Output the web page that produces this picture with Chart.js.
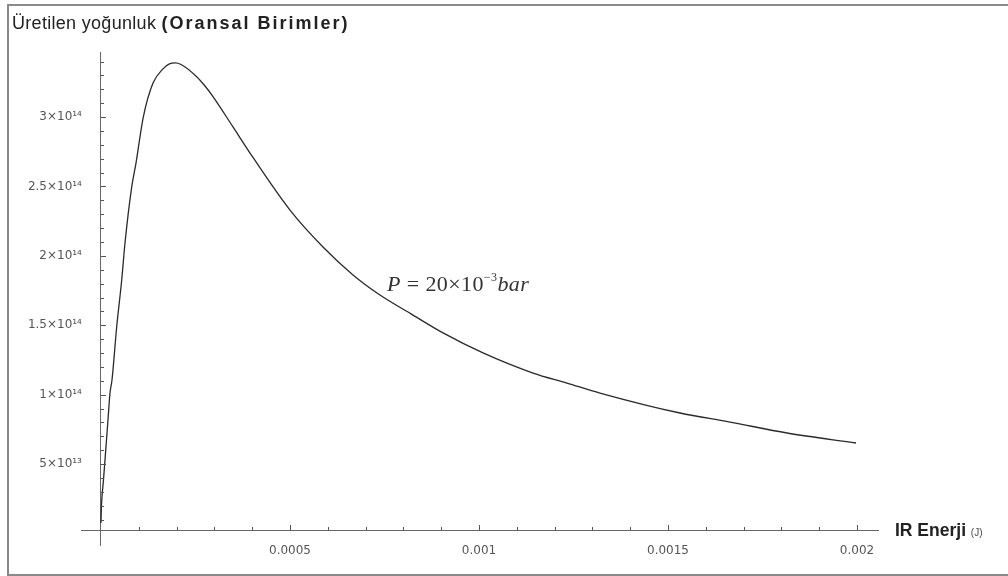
<!DOCTYPE html>
<html>
<head>
<meta charset="utf-8">
<script src="https://cdn.jsdelivr.net/npm/chart.js@4.4.1/dist/chart.umd.min.js"></script>
<style>
    body { margin: 0; background: #fff; }
    #wrap { position: relative; width: 1008px; height: 576px; overflow: hidden; }
    #frame { position: absolute; left: 7px; top: 4px; width: 1010px; height: 568px; border: 2px solid #8a8a8a; }
    .lbl { position: absolute; white-space: nowrap; line-height: 1; color: #222; }
    #title { left: 12px; top: 13px; font: 18px "Liberation Sans", Arial, sans-serif; letter-spacing: 0.3px; }
    #title b { letter-spacing: 2px; }
    #xTitle { left: 895px; top: 520px; font: bold 17.5px "Liberation Sans", Arial, sans-serif; }
    #xTitle span { font-weight: normal; font-size: 10px; color: #444; }
    #note { left: 387px; top: 271px; font: 22px "Liberation Serif", "Times New Roman", serif; color: #333; letter-spacing: 0.4px; }
    #note sup { font-size: 12px; position: relative; top: -1px; vertical-align: top; }
</style>
</head>
<body>
<div id="wrap">
    <canvas id="myChart"></canvas>
    <div id="frame"></div>
    <div class="lbl" id="title">Üretilen yoğunluk <b>(Oransal Birimler)</b></div>
    <div class="lbl" id="xTitle">IR Enerji <span>(J)</span></div>
    <div class="lbl" id="note"><i>P</i> = 20×10<sup>−3</sup><i>bar</i></div>
</div>
<script>
// datos
const energia = [0, 0.000001, 0.0000061, 0.0000106, 0.0000185, 0.0000238, 0.0000291, 0.0000415, 0.0000548,
    0.0000635, 0.0000812, 0.0000926, 0.0001119, 0.0001376, 0.000164, 0.000181, 0.0001963, 0.0002116,
    0.0002532, 0.0002751, 0.0002963, 0.0003492, 0.0004021, 0.0005, 0.0005873, 0.0006667, 0.0007381,
    0.0008201, 0.0009048, 0.0010106, 0.0011429, 0.0012328, 0.0013201, 0.0015317, 0.001664, 0.0018148, 0.0019974];
const densidad = [0.076e14, 0.184e14, 0.371e14, 0.53e14, 0.818e14, 1.012e14, 1.106e14, 1.488e14, 1.826e14,
    2.093e14, 2.496e14, 2.669e14, 3.0e14, 3.245e14, 3.347e14, 3.383e14, 3.39e14, 3.379e14,
    3.291e14, 3.224e14, 3.148e14, 2.929e14, 2.709e14, 2.33e14, 2.064e14, 1.863e14, 1.718e14,
    1.582e14, 1.445e14, 1.301e14, 1.156e14, 1.084e14, 1.012e14, 0.868e14, 0.803e14, 0.724e14, 0.652e14];

const xLabels = ['0.0005', '0.001', '0.0015', '0.002'];
const yLabels = ['5×10¹³', '1×10¹⁴', '1.5×10¹⁴', '2×10¹⁴', '2.5×10¹⁴', '3×10¹⁴'];

const xStep = 0.0001;
const yStep = 1e13;
const yMarcas = 34; // marcas menores hasta 3.4e14
const ejeY0 = 2.5e12; // el eje x no cruza exactamente en cero

// indice de la marca si el valor cae en un paso exacto, si no -1
function pasoDe(v, step) {
    const n = Math.round(v / step);
    return Math.abs(v - n * step) < step * 0.01 ? n : -1;
}

// marcas de los ejes hacia adentro, como en Mathematica
const marcas = {
    id: 'marcas',
    afterDraw(chart) {
        const { ctx, scales: { x, y } } = chart;
        const px0 = x.getPixelForValue(0);
        const py0 = y.getPixelForValue(ejeY0);
        ctx.save();
        ctx.strokeStyle = '#555';
        ctx.lineWidth = 1;
        x.ticks.forEach(t => {
            const n = pasoDe(t.value, xStep);
            if (n <= 0) return;
            const px = Math.round(x.getPixelForValue(t.value)) + 0.5;
            ctx.beginPath();
            ctx.moveTo(px, py0);
            ctx.lineTo(px, py0 - (n % 5 === 0 ? 5 : 3));
            ctx.stroke();
        });
        y.ticks.forEach(t => {
            const n = pasoDe(t.value, yStep);
            if (n <= 0) return;
            const py = Math.round(y.getPixelForValue(t.value)) + 0.5;
            ctx.beginPath();
            ctx.moveTo(px0, py);
            ctx.lineTo(px0 + (n % 5 === 0 ? 5 : 3), py);
            ctx.stroke();
        });
        ctx.restore();
    }
};

const ctx = document.getElementById('myChart').getContext('2d');
const myChart = new Chart(ctx, {
    type: 'line',
    data: {
        datasets: [{
            data: energia.map((e, i) => ({ x: e, y: densidad[i] })),
            borderColor: '#2a2a2a',
            borderWidth: 1.3,
            pointRadius: 0,
            fill: false,
            cubicInterpolationMode: 'monotone'
        }]
    },
    plugins: [marcas],
    options: {
        responsive: true,
        maintainAspectRatio: false,
        animation: false,
        layout: { padding: { left: 81, top: 52, right: 130, bottom: 31 } },
        plugins: {
            legend: { display: false },
            tooltip: { enabled: false }
        },
        scales: {
            x: {
                type: 'linear',
                position: { y: ejeY0 },
                min: -0.0000529,
                max: 0.0020556,
                grid: { display: false, drawTicks: false },
                border: { display: true, color: '#666', width: 1 },
                ticks: {
                    stepSize: xStep,
                    autoSkip: false,
                    includeBounds: false,
                    maxRotation: 0,
                    padding: 14,
                    color: '#555',
                    font: { family: 'DejaVu Sans', size: 12 },
                    callback: v => {
                        const n = pasoDe(v, xStep);
                        return (n > 0 && n % 5 === 0 && xLabels[n / 5 - 1]) ? xLabels[n / 5 - 1] : '';
                    }
                }
            },
            y: {
                type: 'linear',
                position: { x: 0 },
                min: -0.083e14,
                max: 3.469e14,
                // con numeros tan grandes Chart.js reparte mal el paso, se fijan las marcas
                afterBuildTicks: scale => {
                    scale.ticks = [];
                    for (let n = 1; n <= yMarcas; n++) scale.ticks.push({ value: n * yStep });
                },
                grid: { display: false, drawTicks: false },
                border: { display: true, color: '#666', width: 1 },
                ticks: {
                    autoSkip: false,
                    color: '#555',
                    font: { family: 'DejaVu Sans', size: 12 },
                    // con el eje en x=0 Chart.js no deja hueco, se añaden espacios
                    callback: v => {
                        const n = pasoDe(v, yStep);
                        return (n > 0 && n % 5 === 0 && yLabels[n / 5 - 1]) ? yLabels[n / 5 - 1] + '     ' : '';
                    }
                }
            }
        }
    }
});
</script>
</body>
</html>
